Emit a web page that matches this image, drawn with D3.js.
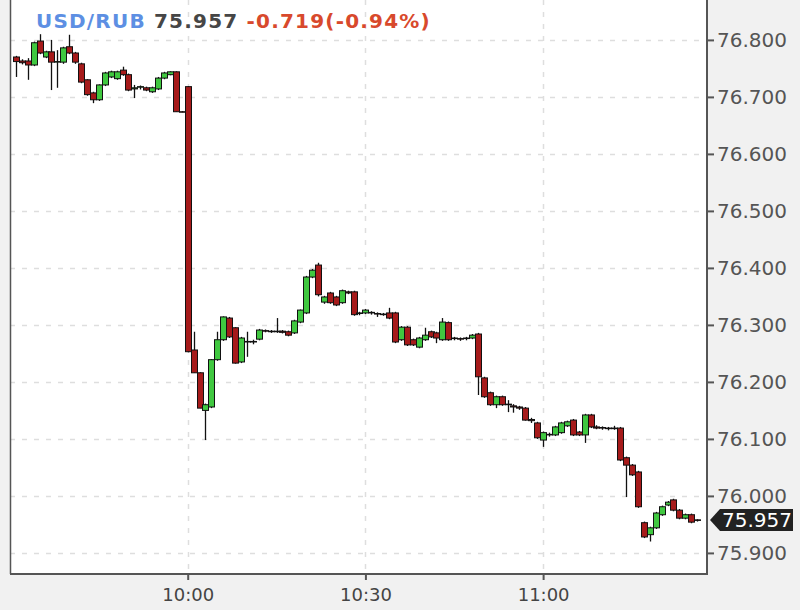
<!DOCTYPE html>
<html>
<head>
<meta charset="utf-8">
<script src="https://cdn.jsdelivr.net/npm/d3@7"></script>
<style>
  html, body { margin: 0; padding: 0; background: #f1f1f1; }
  svg { display: block; font-family: "DejaVu Sans", Verdana, sans-serif; }
</style>
</head>
<body>
<svg id="chart" width="800" height="610"></svg>
<script>
// --- data (1 minute candles) ---
var times = [
  "09:31","09:32","09:33","09:34","09:35","09:36","09:37","09:38","09:39","09:40",
  "09:41","09:42","09:43","09:44","09:45","09:46","09:47","09:48","09:49","09:50",
  "09:51","09:52","09:53","09:54","09:55","09:56","09:57","09:58","09:59","10:00",
  "10:01","10:02","10:03","10:04","10:05","10:06","10:07","10:08","10:09","10:10",
  "10:11","10:12","10:13","10:14","10:15","10:16","10:17","10:18","10:19","10:20",
  "10:21","10:22","10:23","10:24","10:25","10:26","10:27","10:28","10:29","10:30",
  "10:31","10:32","10:33","10:34","10:35","10:36","10:37","10:38","10:39","10:40",
  "10:41","10:42","10:43","10:44","10:45","10:46","10:47","10:48","10:49","10:50",
  "10:51","10:52","10:53","10:54","10:55","10:56","10:57","10:58","10:59","11:00",
  "11:01","11:02","11:03","11:04","11:05","11:06","11:07","11:08","11:09","11:10",
  "11:11","11:12","11:13","11:14","11:15","11:16","11:17","11:18","11:19","11:20",
  "11:21","11:22","11:23","11:24","11:25","11:26"
];
var opens = [
  76.770,76.763,76.763,76.756,76.798,76.770,76.779,76.761,76.761,76.788,
  76.777,76.758,76.730,76.707,76.695,76.721,76.735,76.732,76.747,76.739,
  76.714,76.717,76.716,76.709,76.714,76.733,76.739,76.744,76.674,76.718,
  76.256,76.216,76.150,76.156,76.239,76.274,76.312,76.295,76.235,76.271,
  76.270,76.275,76.290,76.289,76.288,76.289,76.288,76.286,76.305,76.321,
  76.384,76.405,76.340,76.356,76.349,76.339,76.358,76.358,76.320,76.321,
  76.322,76.320,76.319,76.321,76.321,76.274,76.296,76.274,76.261,76.274,
  76.288,76.286,76.274,76.304,76.277,76.276,76.276,76.277,76.284,76.207,
  76.181,76.160,76.174,76.161,76.158,76.156,76.154,76.134,76.128,76.098,
  76.108,76.107,76.111,76.123,76.133,76.112,76.107,76.142,76.121,76.120,
  76.119,76.119,76.119,76.067,76.054,76.042,75.953,75.932,75.944,75.967,
  75.984,75.993,75.975,75.961,75.967,75.958
];
var highs = [
  76.772,76.766,76.768,76.797,76.810,76.781,76.800,76.782,76.788,76.809,
  76.779,76.760,76.731,76.709,76.722,76.744,76.746,76.746,76.753,76.741,
  76.721,76.720,76.718,76.718,76.735,76.744,76.745,76.745,76.675,76.719,
  76.288,76.217,76.162,76.240,76.288,76.315,76.314,76.296,76.279,76.288,
  76.274,76.293,76.292,76.291,76.312,76.291,76.290,76.309,76.327,76.386,
  76.398,76.409,76.351,76.358,76.351,76.362,76.360,76.360,76.323,76.328,
  76.324,76.322,76.321,76.330,76.323,76.298,76.298,76.276,76.279,76.295,
  76.290,76.288,76.312,76.306,76.279,76.278,76.279,76.284,76.286,76.209,
  76.183,76.176,76.176,76.168,76.161,76.158,76.156,76.137,76.130,76.113,
  76.111,76.123,76.130,76.132,76.135,76.114,76.144,76.144,76.124,76.122,
  76.121,76.123,76.121,76.069,76.056,76.044,75.955,75.946,75.972,75.983,
  75.991,75.995,75.977,75.969,75.969,75.959
];
var lows = [
  76.735,76.757,76.730,76.754,76.775,76.768,76.712,76.716,76.758,76.775,
  76.758,76.724,76.702,76.689,76.693,76.719,76.733,76.730,76.737,76.710,
  76.698,76.713,76.710,76.707,76.712,76.731,76.738,76.674,76.673,76.252,
  76.216,76.154,76.098,76.154,76.237,76.272,76.277,76.232,76.233,76.244,
  76.266,76.273,76.287,76.286,76.286,76.285,76.280,76.284,76.303,76.319,
  76.382,76.350,76.337,76.337,76.333,76.337,76.354,76.316,76.317,76.319,
  76.318,76.314,76.316,76.310,76.268,76.272,76.263,76.263,76.259,76.272,
  76.277,76.268,76.272,76.272,76.273,76.272,76.273,76.275,76.177,76.172,
  76.158,76.154,76.158,76.147,76.146,76.151,76.132,76.128,76.100,76.086,
  76.104,76.105,76.109,76.121,76.105,76.105,76.093,76.119,76.117,76.116,
  76.115,76.116,76.061,75.998,76.035,75.979,75.926,75.920,75.942,75.965,
  75.982,75.973,75.959,75.959,75.952,75.955
];
var closes = [
  76.762,76.760,76.756,76.795,76.777,76.779,76.761,76.762,76.786,76.777,
  76.761,76.726,76.704,76.695,76.721,76.742,76.744,76.744,76.739,76.712,
  76.716,76.718,76.712,76.716,76.733,76.742,76.744,76.674,76.674,76.253,
  76.216,76.154,76.160,76.239,76.274,76.314,76.279,76.233,76.277,76.270,
  76.271,76.291,76.289,76.288,76.289,76.287,76.282,76.307,76.326,76.384,
  76.396,76.353,76.349,76.339,76.335,76.360,76.356,76.318,76.321,76.326,
  76.321,76.319,76.318,76.312,76.270,76.296,76.265,76.265,76.277,76.282,
  76.279,76.277,76.305,76.274,76.276,76.275,76.277,76.282,76.209,76.174,
  76.160,76.174,76.160,76.160,76.156,76.154,76.133,76.132,76.102,76.111,
  76.107,76.121,76.128,76.130,76.107,76.107,76.142,76.121,76.119,76.119,
  76.118,76.118,76.063,76.054,76.037,75.981,75.928,75.944,75.970,75.981,
  75.989,75.975,75.961,75.967,75.954,75.957
];

var yTicks = [75.9, 76.0, 76.1, 76.2, 76.3, 76.4, 76.5, 76.6, 76.7, 76.8];
var xTicks = ["10:00", "10:30", "11:00"];
var symbol = "USD/RUB";
var lastPrice = "75.957";
var change = "-0.719(-0.94%)";

(function () {
    // --- layout ---
    var svg = d3.select("#chart");
    var pLeft = 10, pRight = 707, pTop = 0, pBottom = 574;
    var parse = d3.timeParse("%H:%M");

    var candles = times.map(function (t, i) {
        return { t: parse(t), o: opens[i], h: highs[i], l: lows[i], c: closes[i] };
    });

    var x = d3.scaleTime()
        .domain([parse("09:30"), d3.timeParse("%H:%M:%S")("11:27:40")])
        .range([pLeft, pRight]);

    var y = d3.scaleLinear()
        .domain([75.863, 76.870])
        .range([pBottom, pTop]);

    var bodyW = 6;

    // plot background
    svg.append("rect")
        .attr("x", pLeft).attr("y", pTop)
        .attr("width", pRight - pLeft).attr("height", pBottom - pTop)
        .attr("fill", "#fff");

    svg.append("defs").append("clipPath").attr("id", "plot")
        .append("rect")
        .attr("x", pLeft).attr("y", pTop)
        .attr("width", pRight - pLeft).attr("height", pBottom - pTop);

    // grid lines
    svg.append("g").selectAll("line")
        .data(yTicks)
        .enter().append("line")
        .attr("x1", pLeft).attr("x2", pRight)
        .attr("y1", function (d) { return Math.round(y(d)) + 0.5; })
        .attr("y2", function (d) { return Math.round(y(d)) + 0.5; })
        .attr("stroke", "#dedede")
        .attr("stroke-width", 1.5)
        .attr("stroke-dasharray", "5,7");

    svg.append("g").selectAll("line")
        .data(xTicks)
        .enter().append("line")
        .attr("x1", function (d) { return Math.round(x(parse(d))) + 0.5; })
        .attr("x2", function (d) { return Math.round(x(parse(d))) + 0.5; })
        .attr("y1", pTop).attr("y2", pBottom)
        .attr("stroke", "#dedede")
        .attr("stroke-width", 1.5)
        .attr("stroke-dasharray", "5,7");

    // candles
    var cg = svg.append("g").attr("clip-path", "url(#plot)");

    cg.selectAll("line.wick")
        .data(candles)
        .enter().append("line")
        .attr("class", "wick")
        .attr("x1", function (d) { return Math.round(x(d.t)) + 0.5; })
        .attr("x2", function (d) { return Math.round(x(d.t)) + 0.5; })
        .attr("y1", function (d) { return y(d.h); })
        .attr("y2", function (d) { return y(d.l); })
        .attr("stroke", "#111")
        .attr("stroke-width", 1.3);

    cg.selectAll("rect.body")
        .data(candles)
        .enter().append("rect")
        .attr("class", "body")
        .attr("x", function (d) { return Math.round(x(d.t)) - bodyW / 2 + 0.5; })
        .attr("y", function (d) { return y(Math.max(d.o, d.c)); })
        .attr("width", bodyW)
        .attr("height", function (d) { return Math.max(0.5, Math.abs(y(d.o) - y(d.c))); })
        .attr("fill", function (d) { return d.c > d.o ? "#40c840" : "#a61a1a"; })
        .attr("stroke", "#111")
        .attr("stroke-width", 1);

    // frame
    svg.append("line")
        .attr("x1", pLeft + 0.5).attr("x2", pLeft + 0.5)
        .attr("y1", pTop).attr("y2", pBottom)
        .attr("stroke", "#555").attr("stroke-width", 1.5);

    // x axis
    var xAxis = svg.append("g")
        .attr("transform", "translate(0," + pBottom + ")")
        .call(d3.axisBottom(x)
            .tickValues(xTicks.map(parse))
            .tickFormat(d3.timeFormat("%H:%M"))
            .tickSize(6)
            .tickSizeOuter(0));
    xAxis.select(".domain").attr("stroke", "#555").attr("stroke-width", 2)
        .attr("d", "M" + pLeft + ",0H" + (pRight + 1));
    xAxis.selectAll(".tick line").attr("stroke", "#555").attr("stroke-width", 2);
    xAxis.selectAll(".tick text")
        .attr("y", 14)
        .attr("fill", "#444")
        .style("font-size", "18px")
        .style("font-family", "DejaVu Sans, sans-serif");

    // y axis (right)
    var yAxis = svg.append("g")
        .attr("transform", "translate(" + pRight + ",0)")
        .call(d3.axisRight(y)
            .tickValues(yTicks)
            .tickFormat(d3.format(".3f"))
            .tickSize(7)
            .tickPadding(3)
            .tickSizeOuter(0));
    yAxis.select(".domain").attr("stroke", "#555").attr("stroke-width", 2)
        .attr("d", "M0," + pTop + "V" + (pBottom + 1));
    yAxis.selectAll(".tick line").attr("stroke", "#555").attr("stroke-width", 2);
    yAxis.selectAll(".tick text")
        .attr("fill", "#555")
        .style("font-size", "20px")
        .style("font-family", "DejaVu Sans, sans-serif");

    // last price marker
    var last = candles[candles.length - 1];
    var ly = Math.round(y(last.c));
    var marker = svg.append("g").attr("transform", "translate(" + pRight + "," + ly + ")");
    marker.append("path")
        .attr("d", "M3,0L13,-11H86V11H13Z")
        .attr("fill", "#222");
    marker.append("text")
        .attr("x", 15).attr("y", 0)
        .attr("dy", "0.36em")
        .attr("fill", "#fff")
        .style("font-size", "20px")
        .text(lastPrice);

    // title
    var title = svg.append("text")
        .attr("x", 36).attr("y", 28)
        .style("font-size", "20px")
        .style("font-weight", "bold")
        .style("letter-spacing", "1.2px");
    title.append("tspan").attr("fill", "#5d8fe3").text(symbol);
    title.append("tspan").attr("fill", "#464646").text(" " + lastPrice);
    title.append("tspan").attr("fill", "#d8492c").text(" " + change);
})();
</script>
</body>
</html>
